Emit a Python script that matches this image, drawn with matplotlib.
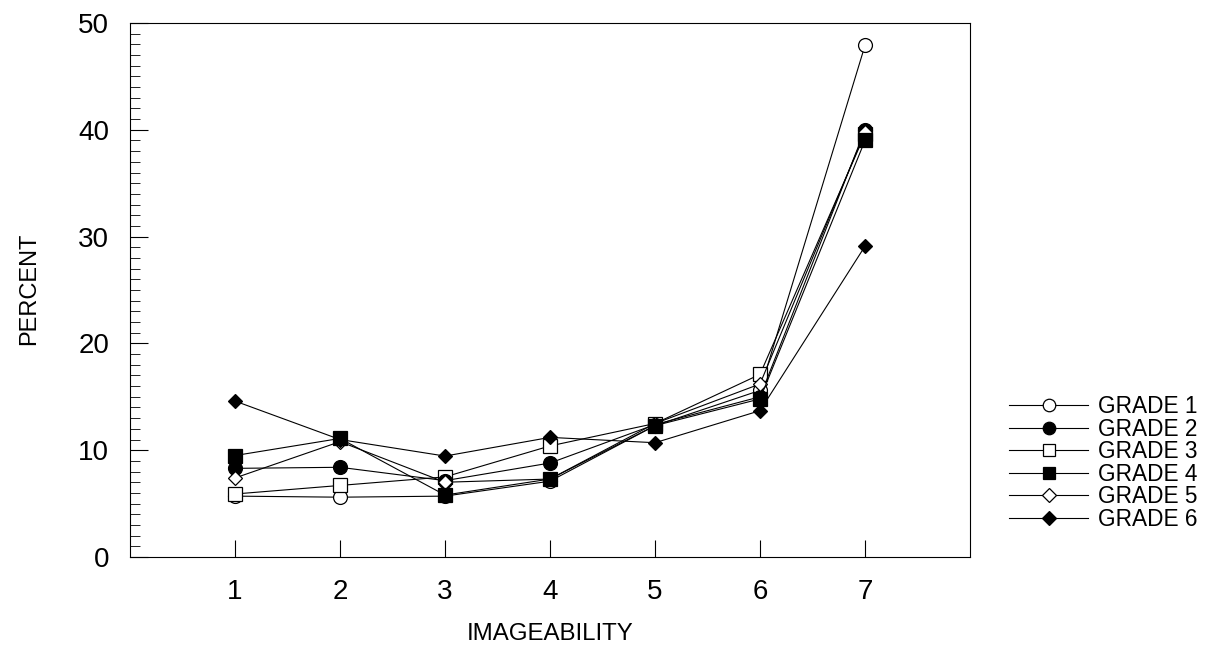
import matplotlib
matplotlib.use('Agg')
import matplotlib.pyplot as plt

plt.rcParams['font.family'] = ['Liberation Sans', 'DejaVu Sans']

# --- data ---
imageability = [1, 2, 3, 4, 5, 6, 7]
grade_1 = [5.7, 5.6, 5.7, 7.1, 12.3, 15.6, 47.9]
grade_2 = [8.3, 8.4, 7.15, 8.8, 12.4, 15.0, 40.0]
grade_3 = [5.9, 6.7, 7.5, 10.4, 12.5, 17.1, 39.6]
grade_4 = [9.5, 11.1, 5.8, 7.3, 12.3, 14.8, 39.0]
grade_5 = [7.4, 10.8, 7.0, 7.3, 12.5, 16.2, 39.8]
grade_6 = [14.6, 11.0, 9.45, 11.2, 10.7, 13.7, 29.1]
labels = ['GRADE 1', 'GRADE 2', 'GRADE 3', 'GRADE 4', 'GRADE 5', 'GRADE 6']

series = [grade_1, grade_2, grade_3, grade_4, grade_5, grade_6]
# marker, face colour, marker size, drawing order
styles = [('o', 'white', 10, 3),
          ('o', 'black', 10, 4),
          ('s', 'white', 10, 3.5),
          ('s', 'black', 10, 7),
          ('D', 'white', 7.5, 5),
          ('D', 'black', 7.5, 6)]

fig = plt.figure(figsize=(12.06, 6.46), dpi=100, facecolor='white')
ax = fig.add_axes([130 / 1206, 89 / 646, 840 / 1206, 534 / 646])

handles = []
for vals, lab, (mk, fc, ms, z) in zip(series, labels, styles):
    h, = ax.plot(imageability, vals, color='black', lw=0.8, marker=mk,
                 markerfacecolor=fc, markeredgecolor='black', markeredgewidth=0.9,
                 markersize=ms, label=lab, zorder=z)
    handles.append(h)

ax.set_xlim(0, 8)
ax.set_ylim(0, 50)
ax.set_xticks(imageability)
ax.set_yticks([0, 10, 20, 30, 40, 50])
ax.set_yticks(range(0, 51), minor=True)
ax.tick_params(axis='both', which='major', direction='in', labelsize=20,
               top=False, right=False)
ax.tick_params(axis='y', which='major', length=13, width=0.8, pad=15)
ax.tick_params(axis='x', which='major', length=12, width=0.8, pad=16)
ax.tick_params(axis='y', which='minor', direction='in', length=7, width=0.6,
               right=False)
ax.tick_params(axis='x', which='minor', bottom=False)
for sp in ax.spines.values():
    sp.set_linewidth(0.8)
    sp.set_color('black')

fig.text(29 / 1206, 1 - 289 / 646, 'PERCENT', rotation=90, ha='center',
         va='center', fontsize=17)
fig.text(550 / 1206, 1 - 634 / 646, 'IMAGEABILITY', ha='center',
         va='center', fontsize=17.3)

fig.legend(handles=handles, loc='upper left',
           bbox_to_anchor=(1009 / 1206, 1 - 395 / 646),
           bbox_transform=fig.transFigure, frameon=False, fontsize=16.3,
           handlelength=3.5, handletextpad=0.45, labelspacing=-0.02,
           borderpad=0, borderaxespad=0, markerscale=0.9)

fig.savefig('out.png', dpi=100, facecolor='white')
